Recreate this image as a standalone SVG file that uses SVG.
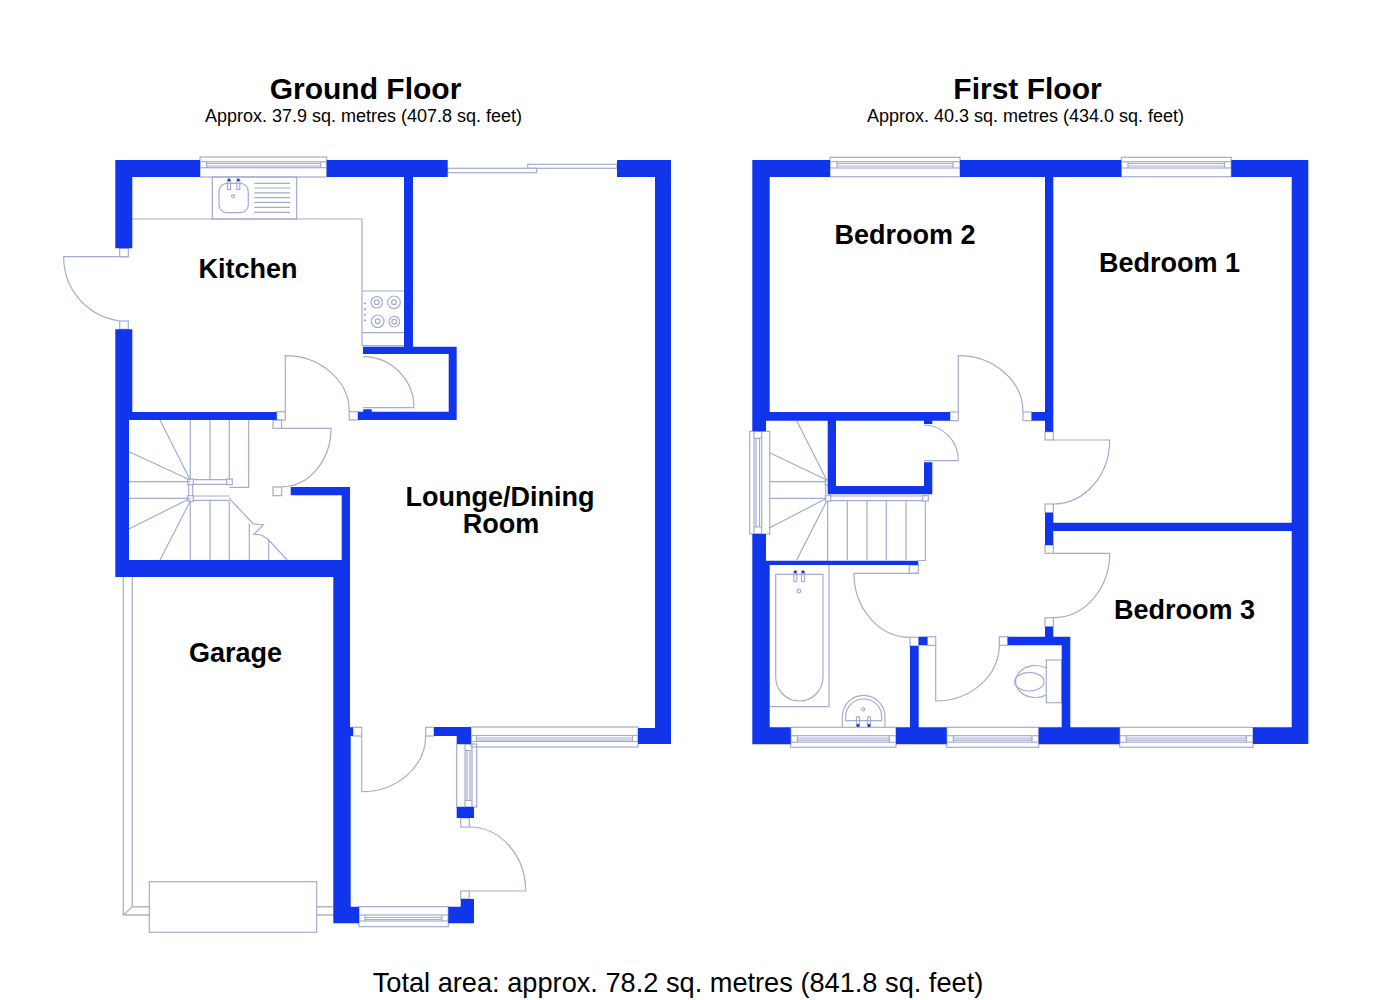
<svg xmlns="http://www.w3.org/2000/svg" width="1375" height="1000" viewBox="0 0 1375 1000">
<style>
text{font-family:"Liberation Sans",Arial,sans-serif;fill:#000;text-anchor:middle}
.t{font-size:30px;font-weight:bold}
.s{font-size:18px}
.r{font-size:27px;font-weight:bold}
.w{fill:#1035ea;stroke:none}
.l{fill:none;stroke:#a4acd0;stroke-width:1.2}
.f{fill:#fff;stroke:#a4acd0;stroke-width:1.2}
.d{fill:#1035ea;stroke:none}
.g{stroke:#b4b6c4;stroke-width:1.4}
</style>
<rect width="1375" height="1000" fill="#fff"/>
<g id="ground-floor">
<g id="ground-fittings" class="l">
<!-- garage -->
<path class="g" d="M123.3 577V915H149.3M132.3 577V906.7H149.3M123.3 915L132.3 906.7M316.7 906.7H333.3M316.7 915H333.3"/>
<rect x="149.3" y="881.7" width="167.4" height="50.6"/>
<!-- kitchen units -->
<path d="M132 219H362V345.7M362 291H404M362 332.7H404M362 345.7H404"/>
<rect x="212.3" y="177" width="84.4" height="42"/>
<rect x="219" y="183.3" width="29.3" height="29.4" rx="8"/>
<path d="M254.3 183.3H290M254.3 188H290M254.3 192.8H290M254.3 197.7H290M254.3 202.3H290M254.3 207.3H290M254.3 212.3H290"/>
<circle cx="233" cy="196.3" r="1.5"/>
<rect x="227.5" y="180" width="3" height="9.5"/><rect x="236.8" y="180" width="3" height="9.5"/>
<circle cx="376.7" cy="302.3" r="5.7"/><circle cx="376.7" cy="302.3" r="2.4"/>
<circle cx="394" cy="302.3" r="6.3"/><circle cx="394" cy="302.3" r="2.4"/>
<circle cx="377.7" cy="321.3" r="6.3"/><circle cx="377.7" cy="321.3" r="2.4"/>
<circle cx="394.3" cy="321.7" r="5.3"/><circle cx="394.3" cy="321.7" r="2.4"/>
<!-- stairs -->
<path d="M190.3 420V480M210 420V480M229.3 420V480M248.7 420V487.3H229.3M190.3 501V560M210 501V560M229.3 501V560M249.3 524V560M268.7 540V560"/>
<path d="M190.3 480L160 420M190.3 480L129 451.7M190.3 481.7H129M190.3 498.3H129M190.3 498.3L129 529M190.3 501L160 560"/>
<path d="M193 479.7H227M193 484.3H227M193 496H229.3M193 500.3H229.3M188.7 484.7V495.7M192.7 484.7V495.7"/>
<path d="M229.3 498.3L253.3 524L263.3 524.7L254 534.3L261.7 535L268.7 540L287.3 560"/>
<rect x="187.7" y="479" width="5.6" height="5.6"/><rect x="226.7" y="479" width="5.6" height="5.6"/><rect x="187.7" y="495.7" width="5.6" height="5.6"/>
<!-- doors -->
<path d="M128.3 256.7H63.7A64.5 64.5 0 0 0 119.7 321"/>
<rect x="119.7" y="248.3" width="8.6" height="8.4"/><rect x="119.7" y="321" width="8.6" height="8.3"/>
<path d="M285.3 411.7V355.7A64 56 0 0 1 349.3 411.7"/>
<rect x="276.7" y="411.7" width="8.6" height="8.3"/><rect x="349.3" y="411.7" width="8.7" height="8.3"/>
<path d="M363.3 356.7A51 51 0 0 1 414 407.7H363.3"/>
<path d="M281.7 428.3H331A49.3 58.4 0 0 1 281.7 486.7"/>
<rect x="273" y="420" width="8.7" height="8.3"/><rect x="273" y="487" width="8.7" height="8.7"/>
<path d="M361.7 736V791.7A64 56 0 0 0 425.7 736"/>
<rect x="353" y="727.3" width="8.7" height="8.7"/><rect x="425.7" y="727.3" width="8.3" height="8.7"/>
<path d="M469.3 827A56.4 64 0 0 1 525.7 891H469.3"/>
<rect x="460.7" y="818" width="8.6" height="9"/><rect x="460.7" y="891" width="8.6" height="8"/>
<!-- sliding door -->
<rect class="f" x="527.7" y="164.3" width="89.3" height="4"/>
<rect class="f" x="447.7" y="168.3" width="89" height="4.4"/>
<!-- windows -->
<rect x="200" y="157" width="126.7" height="20"/><rect x="200" y="161.7" width="126.7" height="6"/><path d="M206.7 161.7V167.7M320.7 161.7V167.7M206.7 163.5H320.7M206.7 166H320.7"/>
<rect x="471" y="727" width="167" height="20"/><rect x="471" y="735.5" width="167" height="6"/><path d="M476.5 735.5V741.5M632.5 735.5V741.5M476.5 738H632.5M476.5 740H632.5"/>
<rect x="456.7" y="744" width="20" height="63"/><rect x="465" y="744" width="7" height="63"/><path d="M465 750.5H472M465 800.5H472M467 750.5V800.5M470 750.5V800.5"/>
<rect x="359" y="906.7" width="89.3" height="20"/><rect x="359" y="915" width="89.3" height="6"/><path d="M365 915V921M442 915V921M365 917.5H442M365 919.5H442"/>
</g>
<g id="ground-walls" class="w">
<path d="M115.3 160H200V177H132.3V248.3H115.3Z"/>
<path d="M326.7 160H447.7V177H413V346.7H456.7V420H358V411.7H363.3V409.3H371.7V411.7H448.7V354H363V346.7H404V177H326.7Z"/>
<path d="M617 160H671V744H638V728H655V177H617Z"/>
<path d="M115.3 329.3H132.3V412H276.7V420H129V560H341.7V495.3H290.7V487H350V727.3H353V736H350.7V906.7H359V923.3H333.3V577H115.3Z"/>
<path d="M434 727H471V744H456.7V736H434Z"/>
<rect x="456.7" y="807" width="17.3" height="11"/>
<path d="M460.7 899H474V923.3H448.3V906.7H460.7Z"/>
</g>
<text class="t" x="365.5" y="98.5">Ground Floor</text>
<text class="s" x="363.5" y="122">Approx. 37.9 sq. metres (407.8 sq. feet)</text>
<g id="kitchen"><text class="r" x="248" y="278">Kitchen</text></g>
<g id="lounge"><text class="r"><tspan x="500" y="506">Lounge/Dining</tspan><tspan x="501" y="533">Room</tspan></text></g>
<g id="garage"><text class="r" x="235.5" y="662">Garage</text></g>
</g>
<g id="first-floor">
<g id="first-fittings" class="l">
<!-- stairs -->
<path d="M826.7 480L796.7 420.7M826.7 480L769.7 452.7M826.7 481.7H769.7M826.7 498.3H769.7M826.7 498.3L769.7 527.7M826.7 501L796.7 560"/>
<path d="M827.7 501V565M847.3 501V560M867 501V560M886.3 501V560M906 501V560M925.3 501V560.5H918"/>
<path d="M830.7 496H922.7M830.7 500.7H922.7M825.7 485V496M830 485V496"/>
<rect x="825.3" y="480" width="5.4" height="5"/><rect x="825.3" y="495.7" width="5.4" height="5.3"/><rect x="922.7" y="495.7" width="5.6" height="5.3"/>
<!-- bath -->
<path d="M829 565V706.7H770"/>
<path d="M775.7 574.3H823V677A23.65 24 0 0 1 775.7 677Z"/>
<rect x="793.8" y="571" width="3" height="10.7" rx="1"/><rect x="801.5" y="571" width="3" height="10.7" rx="1"/>
<circle cx="799" cy="591" r="1.9"/>
<!-- basin -->
<path d="M842.3 727.3V716.7A21.3 21.3 0 0 1 885 716.7V727.3"/>
<path d="M845.7 720.7V716.7A18 17.7 0 0 1 881.7 716.7V720.7Z"/>
<circle cx="863.3" cy="709.3" r="1.5"/>
<rect x="856.5" y="716.7" width="3" height="10" rx="1"/><rect x="867.5" y="716.7" width="3" height="10" rx="1"/>
<!-- wc -->
<rect x="1046.3" y="660" width="15.4" height="42.7"/>
<path d="M1046.3 668A20 16 0 1 0 1046.3 695"/>
<ellipse cx="1029.3" cy="681.7" rx="14.7" ry="9.3"/>
<!-- doors -->
<path d="M958.3 412V355.7A64.7 56.3 0 0 1 1023 412"/>
<rect x="950" y="412" width="8.3" height="8.7"/><rect x="1023" y="412" width="8.7" height="8.7"/>
<path d="M924 425A34.3 35.7 0 0 1 958.3 460.7H924"/>
<path d="M1053.3 440H1109.7A56.4 64 0 0 1 1053.3 504"/>
<rect x="1045" y="431.7" width="8.3" height="8.3"/><rect x="1045" y="504" width="8.3" height="8.7"/>
<path d="M1053.3 553.3H1109.7A56.4 64.4 0 0 1 1053.3 617.7"/>
<rect x="1045" y="545" width="8.3" height="8.3"/><rect x="1045" y="617.7" width="8.3" height="9"/>
<path d="M918.3 573.3H854A56 64 0 0 0 910 637.3"/>
<rect x="909.3" y="565" width="9" height="8.3"/><rect x="910" y="637.3" width="8.7" height="8.7"/>
<path d="M935.7 645.3V701A64 56 0 0 0 999.3 645.3"/>
<rect x="927.3" y="636.7" width="8.4" height="8.6"/><rect x="999.3" y="636.7" width="8.4" height="8.6"/>
<!-- windows -->
<rect x="830" y="157.3" width="130" height="19.4"/><rect x="830" y="161.7" width="130" height="6.3"/><path d="M837 161.7V168M953 161.7V168M837 163.5H953M837 166H953"/>
<rect x="1121.3" y="157.3" width="110" height="19.4"/><rect x="1121.3" y="161.7" width="110" height="6.3"/><path d="M1128 161.7V168M1224.5 161.7V168M1128 163.5H1224.5M1128 166H1224.5"/>
<rect x="749.7" y="431.3" width="20" height="102.7"/><rect x="754" y="431.3" width="7.7" height="102.7"/><path d="M754 438.3H761.7M754 527H761.7M756 438.3V527M759.5 438.3V527"/>
<rect x="790.7" y="727.3" width="105.3" height="20"/><rect x="790.7" y="735.7" width="105.3" height="6.5"/><path d="M797.3 735.7V742.2M889.3 735.7V742.2M797.3 738H889.3M797.3 740.2H889.3"/>
<rect x="946.7" y="727.3" width="92" height="20"/><rect x="946.7" y="735.7" width="92" height="6.5"/><path d="M953.3 735.7V742.2M1032 735.7V742.2M953.3 738H1032M953.3 740.2H1032"/>
<rect x="1119.7" y="727.3" width="133.3" height="20"/><rect x="1119.7" y="735.7" width="133.3" height="6.5"/><path d="M1126.3 735.7V742.2M1246.3 735.7V742.2M1126.3 738H1246.3M1126.3 740.2H1246.3"/>
</g>
<g id="first-walls" class="w">
<path d="M752.3 160H830V177H769.7V412H950V420.7H932.3V424H924V420.7H836V486H924V462.3H932.3V494.3H827.7V420.7H766V431.3H752.3Z"/>
<path d="M960 160H1121.3V177H1053.3V431.7H1045V420.7H1031.7V412H1045V177H960Z"/>
<path d="M1231.3 160H1308.3V744H1253V727.3H1291.7V531H1053.3V545H1045V512.7H1053.3V522.7H1291.7V177H1231.3Z"/>
<path d="M752.3 534H766V560.7H918.3V565H769.7V727.3H790.7V744.3H752.3Z"/>
<path d="M896 727.3H910V646H918.7V727.3H946.7V744.3H896Z"/>
<rect x="918.7" y="636.7" width="8.6" height="8.6"/>
<path d="M1045 626.7H1053.3V636.7H1070.3V727.3H1119.7V744.3H1038.7V727.3H1061.7V645.3H1007.7V636.7H1045Z"/>
</g>
<text class="t" x="1027.5" y="98.5">First Floor</text>
<text class="s" x="1025.5" y="122">Approx. 40.3 sq. metres (434.0 sq. feet)</text>
<g id="bedroom-2"><text class="r" x="905" y="244">Bedroom 2</text></g>
<g id="bedroom-1"><text class="r" x="1169.5" y="272">Bedroom 1</text></g>
<g id="bedroom-3"><text class="r" x="1184.5" y="619">Bedroom 3</text></g>
</g>
<g id="taps" class="d">
<circle cx="229" cy="180" r="1.4"/><circle cx="238.3" cy="180" r="1.4"/>
<circle cx="795.3" cy="572" r="1.4"/><circle cx="803" cy="572" r="1.4"/>
<circle cx="858" cy="725.5" r="1.4"/><circle cx="869" cy="725.5" r="1.4"/>
<circle cx="365" cy="303.3" r=".7"/><circle cx="365" cy="309.3" r=".7"/><circle cx="365" cy="315" r=".7"/><circle cx="365" cy="320.3" r=".7"/>
</g>
<text x="678" y="991.5" style="font-size:27.2px">Total area: approx. 78.2 sq. metres (841.8 sq. feet)</text>
</svg>
